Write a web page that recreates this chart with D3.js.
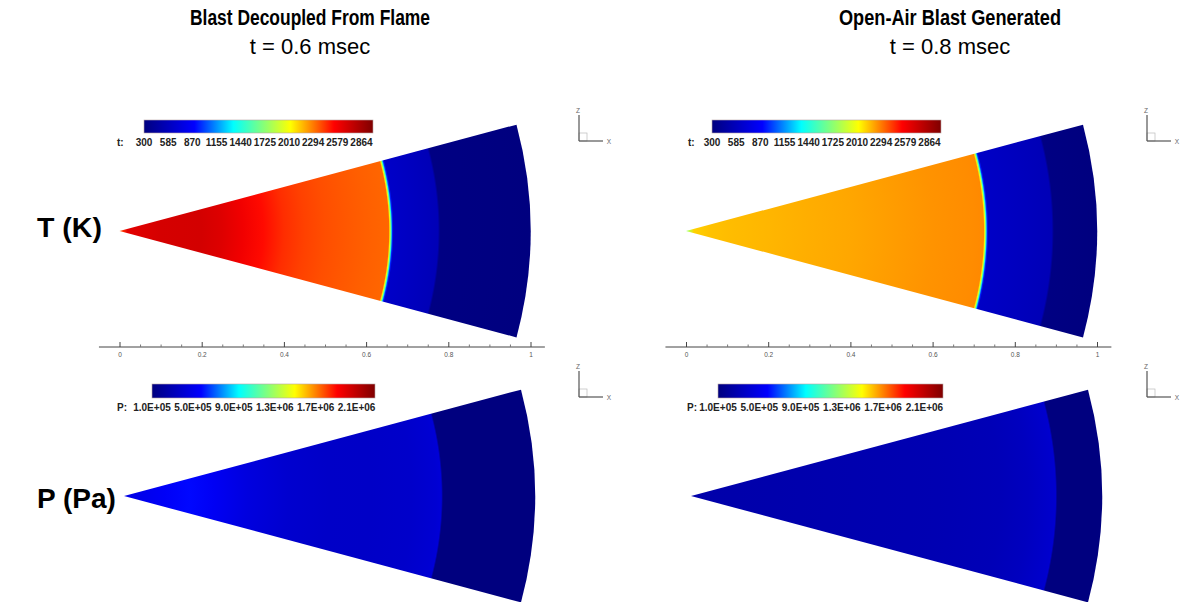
<!DOCTYPE html>
<html>
<head>
<meta charset="utf-8">
<script src="https://cdn.jsdelivr.net/npm/d3@7"></script>
<style>
  html, body { margin: 0; padding: 0; background: #fff; }
  svg { display: block; font-family: "Liberation Sans", Arial, sans-serif; }
</style>
</head>
<body>
<svg id="chart" width="1182" height="602"></svg>
<script>
// ---- contour legend levels ----
const tLevels = [300, 585, 870, 1155, 1440, 1725, 2010, 2294, 2579, 2864];
const tRange = [300, 3000];
const pLevels = [1.0e5, 5.0e5, 9.0e5, 1.3e6, 1.7e6, 2.1e6];
const pRange = [1.0e5, 2.28e6];

// ---- radial profiles (r normalised to wedge radius) ----
// Temperature, blast decoupled from flame, t = 0.6 msec
const tDecoupledR = [0, 0.008, 0.02, 0.1, 0.2, 0.25, 0.3, 0.35, 0.4, 0.45, 0.5, 0.55, 0.6, 0.655, 0.658, 0.661, 0.664, 0.667, 0.72, 0.775, 0.78, 0.9, 1.0];
const tDecoupledK = [2300, 2450, 2640, 2690, 2700, 2660, 2590, 2520, 2450, 2410, 2385, 2365, 2350, 2335, 2000, 1450, 950, 640, 600, 560, 320, 310, 300];
// Temperature, open-air blast, t = 0.8 msec
const tOpenAirR = [0, 0.008, 0.02, 0.06, 0.1, 0.2, 0.3, 0.4, 0.5, 0.6, 0.7, 0.724, 0.727, 0.730, 0.733, 0.736, 0.8, 0.89, 0.895, 1.0];
const tOpenAirK = [1750, 1850, 2120, 2150, 2160, 2175, 2190, 2205, 2225, 2245, 2260, 2265, 2000, 1450, 950, 630, 600, 560, 320, 300];
// Pressure, blast decoupled from flame
const pDecoupledR = [0, 0.1, 0.16, 0.22, 0.3, 0.4, 0.5, 0.6, 0.7, 0.76, 0.772, 0.776, 1.0];
const pDecoupledPa = [4.8e5, 5.5e5, 5.9e5, 5.4e5, 4.6e5, 4.0e5, 3.75e5, 3.7e5, 3.8e5, 4.1e5, 4.3e5, 1.0e5, 1.0e5];
// Pressure, open-air blast
const pOpenAirR = [0, 0.2, 0.4, 0.6, 0.75, 0.82, 0.88, 0.887, 0.891, 1.0];
const pOpenAirPa = [2.6e5, 2.7e5, 2.8e5, 2.9e5, 3.1e5, 3.4e5, 3.9e5, 4.0e5, 1.0e5, 1.0e5];

const axisTicks = [0, 0.2, 0.4, 0.6, 0.8, 1];
const wedgeHalfAngleDeg = 15;

// rainbow colour map (fraction of range -> colour)
const cmapPos = [0, 0.22, 0.39, 0.515, 0.64, 0.83, 1];
const cmapCol = ["#00007f", "#0000ff", "#00ffff", "#7fff7f", "#ffff00", "#ff0000", "#7f0000"];

function makeColor(range) {
  return d3.scaleLinear()
    .domain(cmapPos.map(p => range[0] + p * (range[1] - range[0])))
    .range(cmapCol)
    .interpolate(d3.interpolateRgb)
    .clamp(true);
}
const tColor = makeColor(tRange);
const pColor = makeColor(pRange);

const svg = d3.select("#chart");
const defs = svg.append("defs");

// ---- headings ----
const heads = [
  { cx: 310, title: "Blast Decoupled From Flame", sub: "t = 0.6 msec", w: 240 },
  { cx: 950, title: "Open-Air Blast Generated", sub: "t = 0.8 msec", w: 222 }
];
heads.forEach(h => {
  svg.append("text").attr("x", h.cx).attr("y", 25).attr("text-anchor", "middle")
    .attr("font-family", "'Liberation Sans Narrow', 'Arial Narrow', 'Liberation Sans', Arial, sans-serif")
    .attr("font-size", 22).attr("font-weight", "bold").attr("fill", "#000")
    .attr("textLength", h.w).attr("lengthAdjust", "spacingAndGlyphs").text(h.title);
  svg.append("text").attr("x", h.cx).attr("y", 54).attr("text-anchor", "middle")
    .attr("font-size", 22).attr("fill", "#000").text(h.sub);
});
svg.append("text").attr("x", 37).attr("y", 237).attr("font-size", 28.5).attr("font-weight", "bold").text("T (K)");
svg.append("text").attr("x", 37).attr("y", 508).attr("font-size", 28).attr("font-weight", "bold").text("P (Pa)");

// ---- panels ----
const sciFmt = d => d3.format(".1e")(d).toUpperCase().replace(/E\+(\d)$/, "E+0$1");
const panels = [
  { id: "tl", apexX: 119.5, apexY: 231, r: tDecoupledR, v: tDecoupledK, color: tColor, range: tRange,
    levels: tLevels, fmt: d => String(d), key: "t:", bar: [144, 373, 120, 13], keyX: 117, labY: 145.5,
    axisY: 347, showAxis: true, triad: [579, 141] },
  { id: "tr", apexX: 686, apexY: 231, r: tOpenAirR, v: tOpenAirK, color: tColor, range: tRange,
    levels: tLevels, fmt: d => String(d), key: "t:", bar: [712, 941, 120, 13], keyX: 688, labY: 145.5,
    axisY: 347, showAxis: true, triad: [1147, 141] },
  { id: "bl", apexX: 124, apexY: 496, r: pDecoupledR, v: pDecoupledPa, color: pColor, range: pRange,
    levels: pLevels, fmt: sciFmt, key: "P:", bar: [152, 375, 384, 14], keyX: 117, labY: 410.5,
    showAxis: false, triad: [579, 397] },
  { id: "br", apexX: 691, apexY: 496, r: pOpenAirR, v: pOpenAirPa, color: pColor, range: pRange,
    levels: pLevels, fmt: sciFmt, key: "P:", bar: [718, 943, 384, 14], keyX: 687, labY: 410.5,
    showAxis: false, triad: [1147, 397] }
];

const pxPerUnit = 411;
const half = wedgeHalfAngleDeg * Math.PI / 180;

panels.forEach(p => {
  const x = d3.scaleLinear().domain([0, 1]).range([p.apexX, p.apexX + pxPerUnit]);
  const R = x(1) - x(0);

  // radial contour flood, centred on the wedge apex (local origin)
  const grad = defs.append("radialGradient")
    .attr("id", "g-" + p.id)
    .attr("gradientUnits", "userSpaceOnUse")
    .attr("cx", 0).attr("cy", 0).attr("fx", 0).attr("fy", 0).attr("r", R);
  grad.selectAll("stop").data(p.r).join("stop")
    .attr("offset", d => d)
    .attr("stop-color", (d, i) => p.color(p.v[i]));

  const arc = d3.arc().innerRadius(0).outerRadius(R)
    .startAngle(Math.PI / 2 - half).endAngle(Math.PI / 2 + half);
  svg.append("path")
    .attr("transform", `translate(${p.apexX},${p.apexY})`)
    .attr("d", arc())
    .attr("fill", `url(#g-${p.id})`);

  // colour legend bar
  const [bx0, bx1, by, bh] = p.bar;
  const cb = d3.scaleLinear().domain(p.range).range([bx0, bx1]);
  const lg = defs.append("linearGradient").attr("id", "cb-" + p.id)
    .attr("x1", 0).attr("x2", 1).attr("y1", 0).attr("y2", 0);
  lg.selectAll("stop").data(cmapPos).join("stop")
    .attr("offset", d => d).attr("stop-color", (d, i) => cmapCol[i]);
  svg.append("rect").attr("x", bx0).attr("y", by).attr("width", bx1 - bx0).attr("height", bh)
    .attr("fill", `url(#cb-${p.id})`).attr("stroke", "#b9a6a6").attr("stroke-width", 0.6);
  svg.append("text").attr("x", p.keyX).attr("y", p.labY).attr("font-size", 10)
    .attr("font-weight", "bold").attr("fill", "#222").text(p.key);
  svg.append("g").selectAll("text").data(p.levels).join("text")
    .attr("x", d => cb(d)).attr("y", p.labY).attr("text-anchor", "middle")
    .attr("font-size", 10).attr("font-weight", "bold").attr("fill", "#222")
    .text(p.fmt);

  // x axis
  if (p.showAxis) {
    const g = svg.append("g").attr("transform", `translate(0,${p.axisY})`);
    g.append("line").attr("x1", x(-0.05)).attr("x2", x(1.035)).attr("stroke", "#444").attr("stroke-width", 1);
    const minor = d3.range(0, 1.0001, 0.05).filter(v => Math.abs(v * 5 - Math.round(v * 5)) > 1e-6);
    g.append("g").call(d3.axisBottom(x).tickValues(minor).tickSizeInner(-2.5).tickSizeOuter(0).tickFormat(""))
      .call(a => a.select(".domain").remove())
      .call(a => a.selectAll("line").attr("stroke", "#777"));
    g.append("g").call(d3.axisBottom(x).tickValues(axisTicks).tickSizeInner(-5).tickSizeOuter(0)
        .tickPadding(4).tickFormat(d3.format("~g")))
      .call(a => a.select(".domain").remove())
      .call(a => a.selectAll("line").attr("stroke", "#444").attr("stroke-width", 1))
      .call(a => a.selectAll("text").attr("font-size", 6.5).attr("fill", "#555")
        .attr("font-family", "'Liberation Sans', Arial, sans-serif").attr("dy", "0.9em"));
  }

  // orientation triad
  const [ox, oy] = p.triad;
  const t = svg.append("g");
  t.append("rect").attr("x", ox).attr("y", oy - 8).attr("width", 8).attr("height", 8)
    .attr("fill", "none").attr("stroke", "#bbb").attr("stroke-width", 0.7);
  t.append("line").attr("x1", ox).attr("y1", oy).attr("x2", ox).attr("y2", oy - 26).attr("stroke", "#555").attr("stroke-width", 1.2);
  t.append("line").attr("x1", ox).attr("y1", oy).attr("x2", ox + 24).attr("y2", oy).attr("stroke", "#555").attr("stroke-width", 1.2);
  t.append("text").attr("x", ox - 1).attr("y", oy - 28).attr("font-size", 6.5).attr("fill", "#666").attr("text-anchor", "middle").text("Z");
  t.append("text").attr("x", ox + 30).attr("y", oy + 2.5).attr("font-size", 6.5).attr("fill", "#666").attr("text-anchor", "middle").text("X");
});
</script>
</body>
</html>
